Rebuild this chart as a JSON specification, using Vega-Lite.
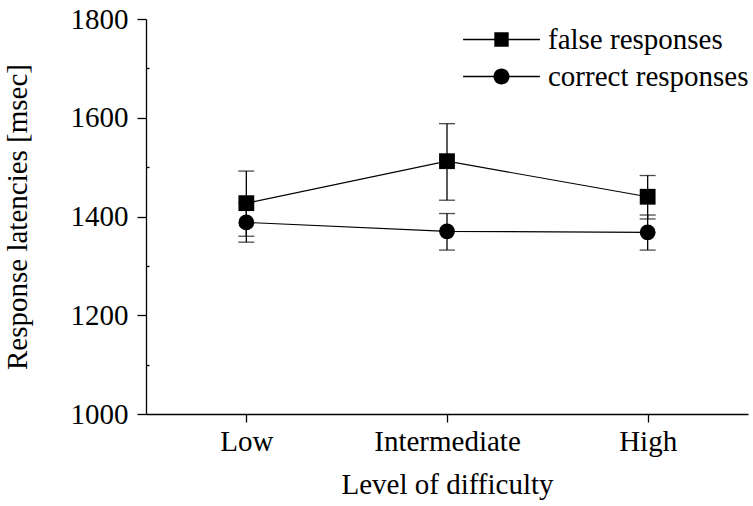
{
  "$schema": "https://vega.github.io/schema/vega-lite/v6.json",
  "width": 602,
  "height": 395,
  "autosize": {"type": "none"},
  "padding": {"left": 146, "top": 19, "right": 5, "bottom": 92},
  "background": "white",
  "config": {
    "font": "Liberation Serif",
    "view": {"stroke": null},
    "axis": {
      "labelFont": "Liberation Serif", "titleFont": "Liberation Serif",
      "labelFontSize": 29, "titleFontSize": 29, "titleFontWeight": "normal",
      "labelColor": "black", "titleColor": "black",
      "domainColor": "black", "tickColor": "black",
      "domainWidth": 1.3, "tickWidth": 1.3, "grid": false
    },
    "legend": {
      "labelFont": "Liberation Serif", "labelFontSize": 29, "labelColor": "black",
      "labelLimit": 400, "orient": "none", "symbolSize": 256, "labelOffset": 32,
      "symbolFillColor": "black", "symbolStrokeColor": "black", "symbolStrokeWidth": 0,
      "labelBaseline": "middle", "symbolOpacity": 1
    }
  },
  "data": {"values": [
    {"level": "Low", "series": "false responses", "mean": 1427, "lo": 1360, "hi": 1492},
    {"level": "Intermediate", "series": "false responses", "mean": 1512, "lo": 1433, "hi": 1588},
    {"level": "High", "series": "false responses", "mean": 1440, "lo": 1395, "hi": 1483},
    {"level": "Low", "series": "correct responses", "mean": 1388, "lo": 1348, "hi": 1428},
    {"level": "Intermediate", "series": "correct responses", "mean": 1370, "lo": 1332, "hi": 1406},
    {"level": "High", "series": "correct responses", "mean": 1368, "lo": 1332, "hi": 1403}
  ]},
  "encoding": {
    "x": {
      "field": "level", "type": "nominal", "sort": ["Low", "Intermediate", "High"],
      "scale": {"type": "point", "domain": ["Low", "Intermediate", "High"], "padding": 0.5, "align": 0.5},
      "axis": {"title": "Level of difficulty", "labelAngle": 0, "tickSize": 8, "labelPadding": 5, "titlePadding": 14}
    }
  },
  "layer": [
    {
      "mark": {"type": "rule", "color": "black", "strokeWidth": 1.3},
      "encoding": {
        "y": {
          "field": "lo", "type": "quantitative",
          "scale": {"domain": [1000, 1800], "nice": false, "zero": false},
          "axis": {
            "title": "Response latencies [msec]",
            "values": [1000, 1100, 1200, 1300, 1400, 1500, 1600, 1700, 1800],
            "labelExpr": "datum.value % 200 === 0 ? datum.label : ''",
            "format": "d",
            "tickSize": {"condition": {"test": "datum.value % 200 === 0", "value": 9}, "value": -3},
            "labelPadding": 9, "titlePadding": 38
          }
        },
        "y2": {"field": "hi"},
        "detail": {"field": "series"}
      }
    },
    {
      "mark": {"type": "tick", "color": "black", "size": 16, "thickness": 1.3, "orient": "horizontal"},
      "encoding": {"y": {"field": "lo", "type": "quantitative"}}
    },
    {
      "mark": {"type": "tick", "color": "black", "size": 16, "thickness": 1.3, "orient": "horizontal"},
      "encoding": {"y": {"field": "hi", "type": "quantitative"}}
    },
    {
      "mark": {"type": "line", "color": "black", "strokeWidth": 1.2},
      "encoding": {
        "y": {"field": "mean", "type": "quantitative"},
        "detail": {"field": "series"}
      }
    },
    {
      "transform": [{"filter": "datum.series === 'false responses'"}],
      "mark": {"type": "point", "filled": true, "shape": "square", "size": 250, "opacity": 1},
      "encoding": {
        "y": {"field": "mean", "type": "quantitative"},
        "color": {
          "field": "series", "type": "nominal",
          "scale": {"domain": ["false responses"], "range": ["black"]},
          "legend": {
            "title": null, "legendX": 341, "legendY": 6,
            "symbolType": "M-4.8,-0.08H4.8V0.08H-4.8ZM-0.9,-0.9H0.9V0.9H-0.9Z"
          }
        }
      }
    },
    {
      "transform": [{"filter": "datum.series === 'correct responses'"}],
      "mark": {"type": "point", "filled": true, "shape": "circle", "size": 250, "color": "black"},
      "encoding": {
        "y": {"field": "mean", "type": "quantitative"},
        "opacity": {
          "field": "series", "type": "nominal",
          "scale": {"type": "ordinal", "domain": ["correct responses"], "range": [1]},
          "legend": {
            "title": null, "legendX": 341, "legendY": 43,
            "symbolType": "M-4.8,-0.08H4.8V0.08H-4.8ZM1,0A1,1 0 1,1 -1,0A1,1 0 1,1 1,0Z"
          }
        }
      }
    }
  ]
}
